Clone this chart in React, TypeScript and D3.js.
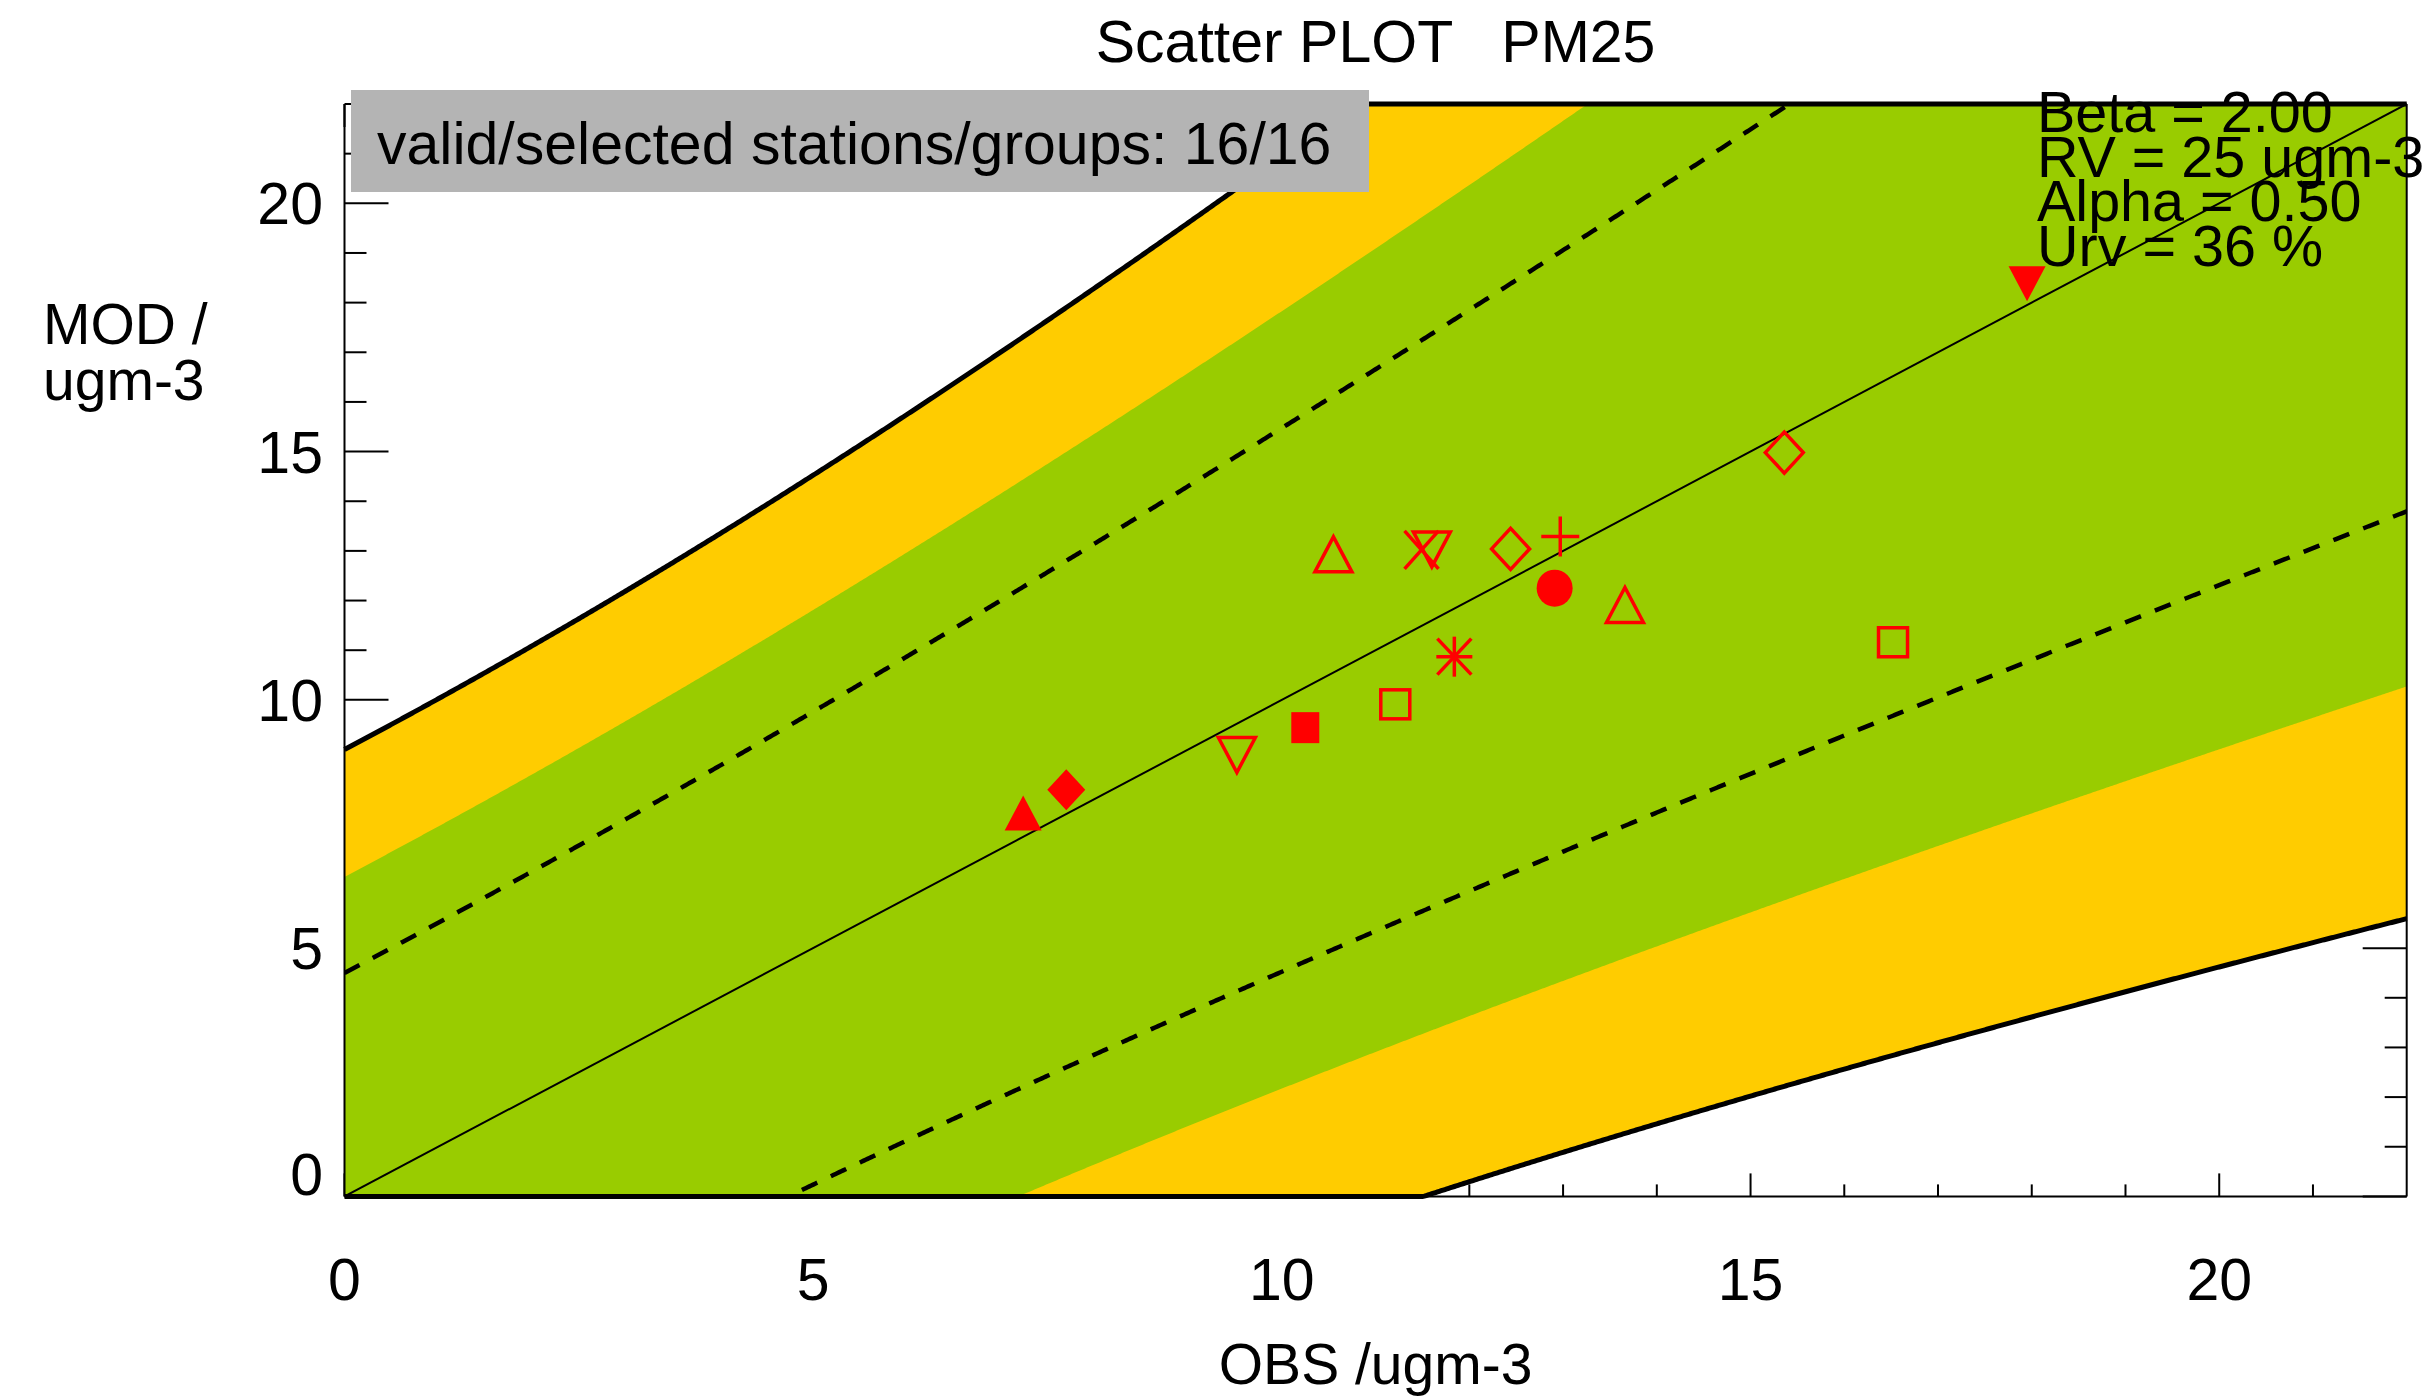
import React from "react";
import * as d3 from "d3";

// ---- Data ----
const OBS = [7.24, 7.7, 9.52, 10.25, 11.21, 11.84, 10.55, 11.49, 11.6, 12.44, 12.97, 12.91, 13.66, 16.52, 15.36, 17.95];
const MOD = [7.72, 8.19, 8.89, 9.44, 9.91, 10.87, 12.93, 13.02, 13.03, 13.04, 13.29, 12.25, 11.91, 11.16, 14.98, 18.38];
const SYMBOLS = [
  "triUpFilled", "diamondFilled", "triDownOpen", "squareFilled", "squareOpen", "asterisk",
  "triUpOpen", "cross", "triDownOpen", "diamondOpen", "plus", "circleFilled", "triUpOpen",
  "squareOpen", "diamondOpen", "triDownFilled",
];

// Quality-objective parameters shown on the chart
const BETA = 2.0;
const RV = 25;
const ALPHA = 0.5;
const URV = 0.36;
const GREEN_FACTOR = 1.43; // green zone half-width (in units of U)

const MAJOR_TICKS = [0, 5, 10, 15, 20];
const MINOR_TICKS = [1, 2, 3, 4, 6, 7, 8, 9, 11, 12, 13, 14, 16, 17, 18, 19, 21];
const INFO_LINES = ["Beta = 2.00", "RV = 25 ugm-3", "Alpha = 0.50", "Urv = 36 %"];
const TITLE = "Scatter PLOT   PM25";
const BOX_TEXT = "valid/selected stations/groups: 16/16";
const X_TITLE = "OBS /ugm-3";
const Y_TITLE = ["MOD /", "ugm-3"];

const W = 2433;
const H = 1396;
const FONT = "'Liberation Sans', Arial, sans-serif";
const FS = 59;
const FS_AXIS = 57;

const x = d3.scaleLinear().domain([0, 22]).range([344.5, 2406.7]);
const y = d3.scaleLinear().domain([0, 22]).range([1196.4, 104]);

const U = (o: number) => URV * Math.sqrt((1 - ALPHA * ALPHA) * o * o + ALPHA * ALPHA * RV * RV);
const samples = d3.range(0, 22.0001, 0.02);
const clamp = (v: number) => Math.max(0, Math.min(22, v));

const line = d3
  .line<[number, number]>()
  .x((d) => x(d[0]))
  .y((d) => y(d[1]));

const band = (k: number) => {
  const up: [number, number][] = samples.map((o) => [o, clamp(o + k * U(o))]);
  const lo: [number, number][] = samples.map((o) => [o, clamp(o - k * U(o))]);
  return { up, lo, poly: line([...up, ...lo.slice().reverse()]) + "Z" };
};

const outer = band(BETA);
const green = band(GREEN_FACTOR);
const dashUp: [number, number][] = samples.map((o) => [o, o + U(o)]);
const dashLo: [number, number][] = samples.map((o) => [o, o - U(o)]);

const RED = "#ff0000";

function Marker({ kind, cx, cy }: { kind: string; cx: number; cy: number }) {
  const sw = 3.5;
  const open = { fill: "none", stroke: RED, strokeWidth: sw, strokeLinejoin: "miter" as const };
  const filled = { fill: RED, stroke: "none" };
  const hw = 18.5;
  const hh = 17.5;
  switch (kind) {
    case "triUpFilled":
    case "triUpOpen": {
      const p = `${cx - hw},${cy + hh} ${cx},${cy - hh} ${cx + hw},${cy + hh}`;
      return <polygon points={p} {...(kind === "triUpOpen" ? open : filled)} />;
    }
    case "triDownFilled":
    case "triDownOpen": {
      const p = `${cx - hw},${cy - hh} ${cx},${cy + hh} ${cx + hw},${cy - hh}`;
      return <polygon points={p} {...(kind === "triDownOpen" ? open : filled)} />;
    }
    case "diamondFilled":
    case "diamondOpen": {
      const p = `${cx - 19},${cy} ${cx},${cy - 20.5} ${cx + 19},${cy} ${cx},${cy + 20.5}`;
      return <polygon points={p} {...(kind === "diamondOpen" ? open : filled)} />;
    }
    case "squareFilled":
      return <rect x={cx - 14} y={cy - 15.5} width={28} height={31} {...filled} />;
    case "squareOpen":
      return <rect x={cx - 14.5} y={cy - 14.5} width={29} height={29} {...open} />;
    case "circleFilled":
      return <ellipse cx={cx} cy={cy} rx={18} ry={18.5} {...filled} />;
    case "plus":
      return (
        <g stroke={RED} strokeWidth={sw}>
          <line x1={cx - 19} y1={cy} x2={cx + 19} y2={cy} />
          <line x1={cx} y1={cy - 20} x2={cx} y2={cy + 20} />
        </g>
      );
    case "cross":
      return (
        <g stroke={RED} strokeWidth={sw}>
          <line x1={cx - 17} y1={cy - 19} x2={cx + 17} y2={cy + 19} />
          <line x1={cx - 17} y1={cy + 19} x2={cx + 17} y2={cy - 19} />
        </g>
      );
    case "asterisk":
      return (
        <g stroke={RED} strokeWidth={sw}>
          <line x1={cx - 18} y1={cy} x2={cx + 18} y2={cy} />
          <line x1={cx} y1={cy - 20} x2={cx} y2={cy + 20} />
          <line x1={cx - 17} y1={cy - 18} x2={cx + 17} y2={cy + 18} />
          <line x1={cx - 17} y1={cy + 18} x2={cx + 17} y2={cy - 18} />
        </g>
      );
    default:
      return null;
  }
}

export default function App() {
  const [x0, x1] = x.range();
  const [y0, y1] = y.range(); // y0 bottom, y1 top
  const yMajLen = 44;
  const yMinLen = 22;
  const xMajLen = 23;
  const xMinLen = 12;

  return (
    <svg
      width={W}
      height={H}
      viewBox={`0 0 ${W} ${H}`}
      style={{ position: "absolute", left: 0, top: 0, background: "#ffffff" }}
      fontFamily={FONT}
    >
      <defs>
        <clipPath id="plotClip">
          <rect x={x0} y={y1} width={x1 - x0} height={y0 - y1} />
        </clipPath>
      </defs>
      <rect x={0} y={0} width={W} height={H} fill="#ffffff" />

      {/* ticks (beneath fills) */}
      <g stroke="#000" strokeWidth={2}>
        {MAJOR_TICKS.map((t) => (
          <g key={"M" + t}>
            <line x1={x0} x2={x0 + yMajLen} y1={y(t)} y2={y(t)} />
            <line x1={x1} x2={x1 - yMajLen} y1={y(t)} y2={y(t)} />
            <line x1={x(t)} x2={x(t)} y1={y0} y2={y0 - xMajLen} />
            <line x1={x(t)} x2={x(t)} y1={y1} y2={y1 + xMajLen} />
          </g>
        ))}
        {MINOR_TICKS.map((t) => (
          <g key={"m" + t}>
            <line x1={x0} x2={x0 + yMinLen} y1={y(t)} y2={y(t)} />
            <line x1={x1} x2={x1 - yMinLen} y1={y(t)} y2={y(t)} />
            <line x1={x(t)} x2={x(t)} y1={y0} y2={y0 - xMinLen} />
            <line x1={x(t)} x2={x(t)} y1={y1} y2={y1 + xMinLen} />
          </g>
        ))}
      </g>

      {/* bands */}
      <g clipPath="url(#plotClip)">
        <path d={outer.poly} fill="#ffcc00" stroke="none" />
        <path d={green.poly} fill="#99cc00" stroke="none" />
        <path d={line(dashUp) || ""} fill="none" stroke="#000" strokeWidth={4.5} strokeDasharray="17 15" />
        <path d={line(dashLo) || ""} fill="none" stroke="#000" strokeWidth={4.5} strokeDasharray="17 15" />
        <path d={line([[0, 0], [22, 22]]) || ""} fill="none" stroke="#000" strokeWidth={2} />
      </g>

      {/* axis frame */}
      <g stroke="#000" strokeWidth={2} fill="none">
        <line x1={x0} x2={x0} y1={y1} y2={y0} />
        <line x1={x1} x2={x1} y1={y1} y2={y0} />
        <line x1={x0} x2={x1} y1={y1} y2={y1} />
        <line x1={x0} x2={x1} y1={y0} y2={y0} />
      </g>

      {/* thick outer limits */}
      <path d={line(outer.up) || ""} fill="none" stroke="#000" strokeWidth={5} />
      <path d={line(outer.lo) || ""} fill="none" stroke="#000" strokeWidth={5} />

      {/* markers */}
      {OBS.map((o, i) => (
        <Marker key={i} kind={SYMBOLS[i]} cx={x(o)} cy={y(MOD[i])} />
      ))}

      {/* stations box */}
      <rect x={351} y={90} width={1018} height={102} fill="#b4b4b4" />
      <text x={377} y={164} fontSize={FS} fill="#000">
        {BOX_TEXT}
      </text>

      {/* parameters */}
      {INFO_LINES.map((s, i) => (
        <text key={s} x={2037} y={132 + i * 44.7} fontSize={57.5} fill="#000">
          {s}
        </text>
      ))}

      {/* title */}
      <text
        x={(x0 + x1) / 2}
        y={62}
        fontSize={FS}
        textAnchor="middle"
        fill="#000"
        xmlSpace="preserve"
        style={{ whiteSpace: "pre" }}
      >
        {TITLE}
      </text>

      {/* x tick labels */}
      {MAJOR_TICKS.map((t) => (
        <text key={"xl" + t} x={x(t)} y={1300} fontSize={FS} textAnchor="middle" fill="#000">
          {t}
        </text>
      ))}
      {/* y tick labels */}
      {MAJOR_TICKS.map((t) => (
        <text
          key={"yl" + t}
          x={323}
          y={y(t) + 21 - (t === 0 ? 22 : 0)}
          fontSize={FS}
          textAnchor="end"
          fill="#000"
        >
          {t}
        </text>
      ))}

      <text x={(x0 + x1) / 2} y={1384} fontSize={FS_AXIS} textAnchor="middle" fill="#000">
        {X_TITLE}
      </text>
      <text x={43} y={344} fontSize={FS_AXIS} fill="#000">
        {Y_TITLE[0]}
      </text>
      <text x={43} y={400} fontSize={FS_AXIS} fill="#000">
        {Y_TITLE[1]}
      </text>
    </svg>
  );
}
